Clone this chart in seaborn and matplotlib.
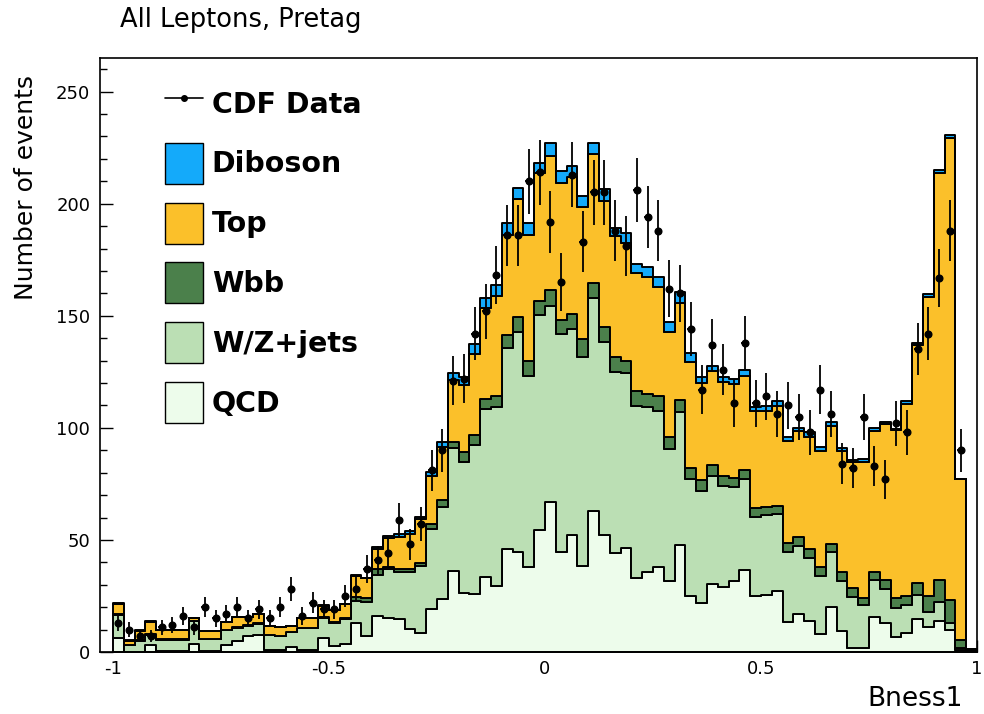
import numpy as np
import pandas as pd
import matplotlib
matplotlib.use("Agg")
import matplotlib.pyplot as plt
import seaborn as sns
from matplotlib.patches import Patch
from matplotlib.lines import Line2D
from matplotlib.ticker import MultipleLocator

# 80 bins of Bness1 between -1 and 1
bin_edges = np.linspace(-1.0, 1.0, 81)

qcd = [6.3, 0.0, 0.0, 3.3, 0.3, 0.3, 0.3, 3.7, 0.3, 0.3,
       3.0, 4.8, 7.0, 7.5, 1.0, 1.0, 2.4, 1.0, 1.0, 6.4,
       2.8, 3.4, 12.8, 7.3, 16.1, 15.3, 14.6, 10.1, 8.3, 19.0,
       23.8, 36.1, 26.1, 25.7, 33.5, 29.6, 46.1, 44.5, 37.9, 54.5,
       66.8, 44.5, 52.2, 38.4, 62.7, 52.2, 44.1, 46.4, 33.0, 35.6,
       37.9, 31.5, 47.9, 25.2, 22.0, 30.2, 29.2, 31.8, 36.6, 25.0,
       25.4, 27.2, 13.2, 17.0, 13.8, 7.9, 20.2, 9.5, 1.8, 1.8,
       15.7, 13.1, 6.5, 8.5, 14.9, 11.1, 13.8, 10.0, 0.8, 0.3]

wzjets = [10.4, 3.0, 5.0, 4.5, 5.2, 5.2, 5.2, 10.0, 5.5, 5.5,
          6.7, 6.1, 4.6, 5.0, 6.5, 6.0, 6.4, 9.6, 9.6, 8.6,
          10.3, 11.2, 10.0, 15.2, 18.3, 21.6, 21.0, 25.5, 30.1, 35.9,
          40.7, 54.8, 58.8, 66.5, 74.8, 79.5, 89.4, 98.4, 85.4, 96.0,
          87.6, 97.3, 91.9, 93.2, 95.1, 86.0, 81.0, 78.0, 76.8, 73.9,
          69.6, 59.1, 59.2, 52.0, 50.0, 48.4, 44.9, 41.6, 40.5, 35.4,
          35.5, 34.3, 31.3, 30.5, 28.3, 26.0, 24.4, 22.3, 22.8, 19.0,
          16.6, 15.2, 13.0, 12.3, 10.5, 6.6, 8.5, 3.1, 1.0, 0.2]

wbb = [0.3, 0.1, 0.3, 0.2, 0.3, 0.3, 0.3, 0.3, 0.2, 0.2,
       0.3, 0.3, 0.3, 0.3, 0.3, 0.3, 0.3, 0.3, 0.3, 0.4,
       0.4, 0.4, 1.9, 1.5, 2.6, 1.2, 1.3, 1.3, 1.5, 2.2,
       3.1, 2.8, 4.2, 4.6, 4.6, 5.3, 5.8, 6.6, 6.5, 6.2,
       7.2, 6.4, 6.9, 7.9, 7.0, 6.7, 6.5, 5.6, 6.5, 5.7,
       6.6, 5.4, 5.5, 4.9, 4.8, 4.9, 4.6, 4.4, 3.9, 3.7,
       3.7, 3.8, 4.0, 3.7, 3.7, 4.2, 3.4, 3.9, 3.9, 3.4,
       3.4, 4.0, 4.7, 4.1, 5.4, 7.2, 9.9, 10.3, 3.6, 0.5]

top = [4.6, 2.0, 4.1, 5.5, 4.1, 3.8, 3.8, 1.0, 3.2, 3.2,
       3.3, 4.4, 3.7, 4.1, 3.9, 3.8, 2.3, 4.1, 4.1, 5.1,
       5.1, 6.3, 9.3, 8.8, 8.8, 12.6, 14.6, 15.8, 19.3, 21.2,
       23.8, 27.7, 29.9, 36.1, 40.7, 44.6, 44.9, 52.5, 56.1, 56.8,
       59.6, 61.2, 61.0, 59.1, 57.5, 56.3, 53.8, 52.5, 52.7, 52.2,
       48.7, 46.9, 43.3, 47.4, 43.1, 41.9, 41.7, 41.8, 42.2, 43.5,
       43.1, 44.5, 45.7, 47.5, 50.3, 51.6, 52.8, 53.8, 56.1, 60.7,
       62.8, 69.2, 74.8, 85.9, 106.1, 133.6, 181.6, 206.1, 71.6, 0.5]

diboson = [0.2, 0.1, 0.2, 0.2, 0.1, 0.1, 0.1, 0.2, 0.1, 0.1,
           0.1, 0.1, 0.1, 0.1, 0.1, 0.1, 0.2, 0.3, 0.3, 0.3,
           0.2, 0.3, 0.4, 0.4, 1.2, 1.1, 1.0, 1.3, 1.2, 2.2,
           2.3, 3.0, 3.9, 4.6, 4.3, 4.6, 5.0, 4.9, 5.3, 4.6,
           5.7, 5.2, 4.9, 4.9, 5.0, 5.4, 3.8, 4.4, 4.1, 4.2,
           4.6, 4.1, 4.6, 3.7, 2.7, 2.4, 2.2, 2.3, 2.4, 1.9,
           2.1, 2.4, 1.9, 1.4, 2.0, 1.8, 2.0, 1.3, 1.1, 1.3,
           1.5, 1.3, 0.6, 1.2, 1.1, 1.0, 1.3, 1.3, 0.2, 0.0]

cdf_data = [13, 10, 7, 7, 11, 12, 16, 11, 20, 15,
            17, 20, 15, 19, 15, 20, 28, 16, 22, 19,
            19, 25, 28, 37, 41, 44, 59, 48, 57, 81,
            90, 121, 122, 142, 152, 168, 186, 186, 210, 214,
            192, 165, 213, 183, 205, 205, 188, 181, 206, 194,
            188, 162, 160, 144, 117, 137, 126, 111, 138, 111,
            114, 106, 110, 105, 98, 117, 106, 84, 82, 105,
            83, 77, 102, 98, 135, 142, 167, 188, 90, 0]

processes = ["Diboson", "Top", "Wbb", "W/Z+jets", "QCD"]
colors = {"Diboson": "#14AAFA", "Top": "#FBC02A", "Wbb": "#4B804B",
          "W/Z+jets": "#BBDFB4", "QCD": "#EDFCEB"}

centers = 0.5 * (bin_edges[:-1] + bin_edges[1:])
frames = []
for name, vals in zip(processes, [diboson, top, wbb, wzjets, qcd]):
    frames.append(pd.DataFrame({"Bness1": centers, "events": vals, "process": name}))
df = pd.concat(frames, ignore_index=True)

sns.set_theme(style="ticks")
plt.rcParams["font.family"] = ["DejaVu Sans"]
plt.rcParams["axes.unicode_minus"] = False
plt.rcParams["text.color"] = "black"
plt.rcParams["axes.labelcolor"] = "black"
plt.rcParams["xtick.color"] = "black"
plt.rcParams["ytick.color"] = "black"

fig = plt.figure(figsize=(9.84, 7.14), dpi=100)
ax = fig.add_axes([100 / 984, 1 - 652 / 714, 877 / 984, 594 / 714])

sns.histplot(data=df, x="Bness1", weights="events", hue="process",
             hue_order=processes, multiple="stack", element="step",
             bins=bin_edges.tolist(), palette=colors, alpha=1,
             edgecolor="black", linewidth=1.4, legend=False, ax=ax)

# CDF data with Poisson errors
x = centers
y = np.asarray(cdf_data, dtype=float)
mask = y > 0
ax.errorbar(x[mask], y[mask], yerr=np.sqrt(y[mask]), xerr=0.008, fmt="o",
            ms=4.8, color="black", elinewidth=1.3, capsize=0, zorder=5)

ax.set_xlim(-1.03, 1.0)
ax.set_ylim(0, 265)
ax.set_xticks([-1, -0.5, 0, 0.5, 1])
ax.set_xticklabels(["-1", "-0.5", "0", "0.5", "1"])
ax.set_yticks([0, 50, 100, 150, 200, 250])
ax.set_yticklabels(["0", "50", "100", "150", "200", "250"])
ax.xaxis.set_minor_locator(MultipleLocator(0.1))
ax.yaxis.set_minor_locator(MultipleLocator(10))
ax.tick_params(which="both", direction="in", top=False, right=False,
               colors="black", labelcolor="black", labelsize=13, width=1.0)
ax.tick_params(axis="y", which="major", length=9, pad=7)
ax.tick_params(axis="x", which="major", length=9, pad=6)
ax.tick_params(which="minor", length=5)
ax.set_xlabel("")
ax.set_ylabel("")
for sp in ax.spines.values():
    sp.set_visible(True)
    sp.set_color("black")
    sp.set_linewidth(1.2)

fig.text(120 / 984, 1 - 20 / 714, "All Leptons, Pretag", fontsize=18.5,
         ha="left", va="center", color="black")
fig.text(26 / 984, 1 - 75 / 714, "Number of events", fontsize=18,
         rotation=90, ha="center", va="top", color="black")
fig.text(963 / 984, 1 - 699 / 714, "Bness1", fontsize=19,
         ha="right", va="center", color="black")

handles = [Line2D([0], [0], color="black", lw=1.2, marker="o", ms=4)]
handles += [Patch(facecolor=colors[p], edgecolor="black", linewidth=1.0)
            for p in processes]
labels = ["CDF Data"] + processes
fig.legend(handles, labels, loc="upper left",
           bbox_to_anchor=(165 / 984, 1 - 83 / 714), frameon=False,
           prop={"weight": "bold", "size": 20.5}, handlelength=1.34,
           handleheight=1.84, handletextpad=0.3, labelspacing=0.66,
           borderpad=0, borderaxespad=0, labelcolor="black")

fig.savefig("out.png", dpi=100)
